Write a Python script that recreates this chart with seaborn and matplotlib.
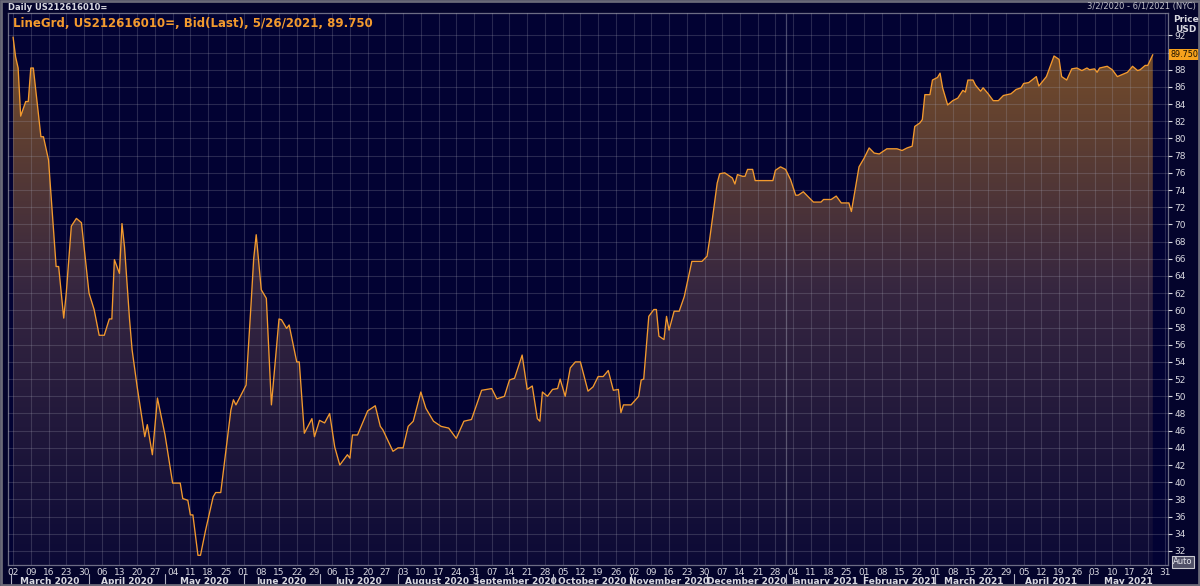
import numpy as np
import pandas as pd
import matplotlib
matplotlib.use("Agg")
import matplotlib.pyplot as plt
import matplotlib.dates as mdates
import matplotlib.transforms as mtransforms
from matplotlib.colors import LinearSegmentedColormap
from matplotlib.patches import Rectangle
from matplotlib.ticker import FuncFormatter
import seaborn as sns

# Data: days since 2020-03-02 and bid price
start = pd.Timestamp("2020-03-02")
day_offset = [
    0, 1, 2, 3, 5, 6, 7, 8, 11, 12, 14, 17, 18, 20, 21, 23, 25, 27, 30, 32,
    34, 36, 38, 39, 40, 42, 43, 44, 46, 47, 49, 52, 53, 55, 57, 59, 60, 63, 66, 67,
    69, 70, 71, 73, 74, 76, 79, 80, 82, 86, 87, 88, 92, 94, 95, 96, 98, 100, 102, 105,
    106, 108, 109, 112, 113, 115, 118, 119, 121, 123, 125, 127, 129, 132, 133, 134, 136, 140, 143, 145,
    146, 150, 152, 154, 156, 158, 161, 163, 166, 169, 172, 175, 178, 181, 185, 189, 191, 194, 196, 198,
    201, 203, 205, 207, 208, 209, 211, 213, 215, 216, 218, 220, 222, 224, 227, 229, 231, 233, 235, 237,
    239, 240, 241, 244, 247, 248, 249, 251, 253, 254, 255, 257, 258, 259, 261, 263, 265, 268, 272, 274,
    275, 278, 279, 281, 282, 284, 285, 286, 288, 289, 290, 292, 293, 300, 301, 303, 305, 307, 309, 310,
    312, 314, 316, 319, 320, 323, 325, 327, 330, 331, 334, 336, 338, 340, 342, 345, 349, 351, 353, 355,
    356, 358, 359, 360, 362, 363, 365, 366, 367, 369, 371, 373, 375, 376, 377, 379, 380, 382, 383, 385,
    387, 389, 391, 394, 396, 398, 399, 401, 404, 405, 408, 410, 411, 413, 414, 416, 418, 420, 422, 424,
    425, 427, 428, 429, 432, 434, 436, 440, 442, 444, 445, 447, 448, 450,
]
bid = [
    91.8, 89.5, 88.2, 82.6, 84.3, 84.3, 88.2, 88.2, 80.2, 80.2, 77.5, 65.1, 65.1, 59.1, 62.0, 69.8, 70.7, 70.2, 62.0, 60.1,
    57.1, 57.1, 59.0, 59.0, 65.9, 64.3, 70.1, 67.4, 58.9, 55.4, 51.1, 45.3, 46.7, 43.2, 49.8, 46.9, 45.5, 39.9, 39.9, 38.1,
    37.9, 36.2, 36.2, 31.5, 31.5, 34.4, 38.3, 38.8, 38.8, 48.4, 49.6, 49.0, 51.3, 60.9, 66.0, 68.8, 62.4, 61.4, 49.0, 59.0,
    58.9, 57.9, 58.3, 54.0, 54.0, 45.7, 47.4, 45.3, 47.2, 46.9, 48.0, 44.1, 42.0, 43.2, 42.8, 45.5, 45.5, 48.3, 48.9, 46.5,
    46.1, 43.6, 44.0, 44.0, 46.5, 47.1, 50.5, 48.6, 47.1, 46.5, 46.3, 45.1, 47.1, 47.3, 50.7, 50.9, 49.7, 50.0, 51.9, 52.1,
    54.8, 50.8, 51.2, 47.4, 47.1, 50.5, 50.0, 50.8, 50.9, 52.0, 50.0, 53.3, 54.0, 54.0, 50.6, 51.1, 52.3, 52.3, 53.0, 50.7,
    50.8, 48.1, 49.0, 49.0, 50.0, 51.9, 52.0, 59.3, 60.1, 60.1, 57.0, 56.6, 59.3, 57.7, 59.9, 59.9, 61.6, 65.7, 65.7, 66.3,
    68.2, 74.8, 75.9, 76.0, 75.8, 75.4, 74.7, 75.8, 75.6, 75.6, 76.4, 76.4, 75.1, 75.1, 76.3, 76.7, 76.4, 75.2, 73.4, 73.4,
    73.8, 73.2, 72.6, 72.6, 72.9, 72.9, 73.3, 72.5, 72.5, 71.5, 76.7, 77.7, 78.9, 78.3, 78.2, 78.8, 78.8, 78.6, 78.9, 79.1,
    81.4, 81.8, 82.2, 85.1, 85.1, 86.8, 87.1, 87.6, 85.9, 83.9, 84.4, 84.7, 85.6, 85.4, 86.8, 86.8, 86.2, 85.5, 85.9, 85.2,
    84.4, 84.4, 85.0, 85.2, 85.7, 85.9, 86.4, 86.5, 87.2, 86.1, 87.2, 88.8, 89.6, 89.2, 87.2, 86.8, 88.1, 88.2, 87.9, 88.2,
    88.0, 88.1, 87.7, 88.2, 88.4, 88.0, 87.2, 87.7, 88.4, 87.9, 88.0, 88.5, 88.5, 89.75,
]
price_ticks = list(range(32, 93, 2))
title = "LineGrd, US212616010=, Bid(Last), 5/26/2021, 89.750"
last_value = 89.75
last_label = "89.750"

df = pd.DataFrame({"date": start + pd.to_timedelta(day_offset, unit="D"), "bid": bid})

bg = "#020233"
grid_c = "#a4a4b4"
orange = "#f39a2e"
txt_c = "#d8d8e0"

sns.set_style("dark", {"axes.facecolor": bg, "figure.facecolor": "#04042c"})
plt.rcParams["font.family"] = ["Liberation Sans Narrow", "DejaVu Sans"]

fig = plt.figure(figsize=(12, 5.86), dpi=100)
ax = fig.add_axes([8 / 1200, 1 - 565 / 586, 1160 / 1200, 552 / 586])

x_lo = pd.Timestamp("2020-02-29")
x_hi = pd.Timestamp("2021-06-01")
y_lo, y_hi = 30.37, 94.6

# gradient fill under the line
cmap = LinearSegmentedColormap.from_list("fillgrad", ["#0c0a36", "#362640", "#7e5226"])
poly = ax.fill_between(df["date"], df["bid"], y_lo, color="none", lw=0)
grad = ax.imshow(np.linspace(0, 1, 256).reshape(-1, 1), cmap=cmap, aspect="auto",
                 origin="lower", extent=[mdates.date2num(x_lo), mdates.date2num(x_hi), y_lo, y_hi],
                 zorder=1)
grad.set_clip_path(poly.get_paths()[0], ax.transData)

sns.lineplot(data=df, x="date", y="bid", ax=ax, color=orange, lw=0.95, zorder=4)

ax.set_xlim(x_lo, x_hi)
ax.set_ylim(y_lo, y_hi)
ax.set_xlabel("")
ax.set_ylabel("")

# weekly grid (Mondays) and price grid
ax.xaxis.set_major_locator(mdates.WeekdayLocator(byweekday=mdates.MO))
ax.xaxis.set_major_formatter(mdates.DateFormatter("%d"))
ax.xaxis.set_minor_locator(mdates.MonthLocator())
ax.set_yticks(price_ticks)
# the last-value tag hides the price label it sits on
ax.yaxis.set_major_formatter(FuncFormatter(
    lambda v, p: "" if abs(v - last_value) < 1.0 else f"{v:.0f}"))
ax.yaxis.tick_right()
ax.set_axisbelow(False)
ax.grid(True, which="major", color=grid_c, alpha=0.24, lw=0.8)
ax.axvline(pd.Timestamp("2021-01-01"), color=grid_c, alpha=0.45, lw=0.9, zorder=2)

ax.tick_params(axis="x", which="major", length=0, pad=2.5, labelsize=6.5, colors=txt_c)
ax.tick_params(axis="x", which="minor", length=3, width=0.8, color="#b0b0c0")
ax.tick_params(axis="y", which="major", length=3, width=0.8, pad=1.5, labelsize=6.5,
               colors=txt_c, right=True, left=False)
for s in ax.spines.values():
    s.set_color("#6c6c84")
    s.set_linewidth(0.9)
    s.set_visible(True)

# title inside plot
ax.text(0.0045, 0.993, title, transform=ax.transAxes, ha="left", va="top",
        color=orange, fontsize=8.5, fontweight="bold", zorder=6)

# month labels with separators
trans = mtransforms.blended_transform_factory(ax.transData, ax.transAxes)
months = pd.date_range("2020-03-01", "2021-06-01", freq="MS")
for m0, m1 in zip(months[:-1], months[1:]):
    mid = m0 + (m1 - m0) / 2
    ax.text(mid, -0.029, m0.strftime("%B %Y"), transform=trans, ha="center", va="center",
            fontsize=6.5, fontweight="bold", color=txt_c, clip_on=False)
for m in months[:-1]:
    ax.plot([m, m], [-0.017, -0.04], transform=trans, color="#b0b0c0", lw=0.8, clip_on=False)

# last value tag
ax.annotate(last_label, xy=(1.0, last_value), xycoords=("axes fraction", "data"),
            xytext=(1.5, 0), textcoords="offset points", ha="left", va="center",
            fontsize=5.8, color="#1a1000",
            bbox=dict(boxstyle="square,pad=0.12", fc="#f7a21c", ec="none"), zorder=7)

# header and right side labels
fig.text(8 / 1200, 1 - 7 / 586, "Daily US212616010=", ha="left", va="center",
         fontsize=6, fontweight="bold", color=txt_c)
fig.text(1196 / 1200, 1 - 7 / 586, "3/2/2020 - 6/1/2021 (NYC)", ha="right", va="center",
         fontsize=6, color="#c0c0c8")
fig.text(1186 / 1200, 1 - 19 / 586, "Price", ha="center", va="center",
         fontsize=6.5, fontweight="bold", color=txt_c)
fig.text(1186 / 1200, 1 - 29 / 586, "USD", ha="center", va="center",
         fontsize=6.5, fontweight="bold", color=txt_c)
fig.text(1183 / 1200, 1 - 562 / 586, "Auto", ha="center", va="center", fontsize=6,
         color="#e8e8f0", bbox=dict(boxstyle="square,pad=0.2", fc="#505068", ec="#c8c8d0", lw=0.8))

fig.patches.append(Rectangle((0.001, 0.001), 0.998, 0.997, transform=fig.transFigure,
                             fill=False, ec="#6a6a78", lw=2))

fig.savefig("out.png", dpi=100, facecolor=fig.get_facecolor())
